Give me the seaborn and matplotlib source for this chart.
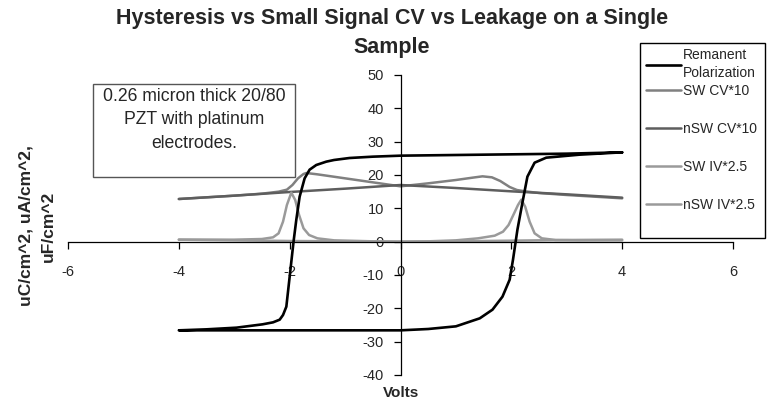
import numpy as np
import pandas as pd
import matplotlib.pyplot as plt
from matplotlib.patches import Rectangle
import seaborn as sns

# --- data ---
# remanent polarization loop: down-sweep (+4 -> -4) then up-sweep (-4 -> +4)
pr_volts = [4.0, 3.0, 2.0, 1.0, 0.0, -0.5, -0.92, -1.2, -1.34, -1.52, -1.64, -1.73,
            -1.82, -1.88, -1.93, -1.97, -2.02, -2.06, -2.12, -2.18, -2.3, -2.49, -2.96,
            -3.5, -4.0,
            -3.0, -2.0, -1.0, 0.0, 0.5, 1.0, 1.43, 1.66, 1.84, 1.97, 2.03, 2.11, 2.2,
            2.29, 2.42, 2.63, 3.23, 4.0]
pr_values = [26.8, 26.4, 26.2, 26.0, 25.8, 25.5, 25.1, 24.5, 24.0, 23.0, 21.6, 19.0,
             13.5, 6.6, 0.0, -6.0, -13.5, -19.5, -22.0, -23.4, -24.2, -24.8, -25.8,
             -26.3, -26.6,
             -26.6, -26.6, -26.6, -26.6, -26.2, -25.4, -23.0, -20.4, -16.5, -11.4, -5.4,
             3.6, 11.7, 19.5, 23.7, 25.2, 26.1, 26.8]

# small signal CV (x10)
sw_cv_volts = [-4, -3, -2.5, -2.2, -2.05, -1.95, -1.85, -1.75, -1.7, -1.5, -1.0, -0.5,
               0, 0.5, 1.0, 1.3, 1.48, 1.65, 1.8, 1.97, 2.1, 2.25, 2.5, 3, 3.5, 4]
sw_cv_values = [12.8, 13.8, 14.4, 15.0, 15.6, 17.0, 19.0, 20.3, 20.6, 20.2, 19.0, 17.8,
                16.6, 17.5, 18.5, 19.2, 19.6, 19.3, 18.2, 16.4, 15.5, 15.1, 14.6, 14.0,
                13.5, 13.0]
nsw_cv_volts = [-4, -3, -2, -1, 0, 1, 2, 3, 4]
nsw_cv_values = [12.8, 13.8, 14.9, 15.9, 17.0, 16.1, 15.1, 14.2, 13.2]

# leakage IV (x2.5)
sw_iv_volts = [-4, -3, -2, -1, 0, 0.5, 1.0, 1.4, 1.7, 1.85, 1.95, 2.05, 2.12, 2.18,
               2.25, 2.33, 2.42, 2.55, 2.8, 3.2, 4]
sw_iv_values = [0.6, 0.4, 0.2, 0.1, 0.0, 0.1, 0.4, 1.0, 1.8, 3.0, 5.0, 8.5, 11.0, 12.6,
                10.5, 6.0, 2.5, 1.0, 0.5, 0.4, 0.4]
nsw_iv_volts = [-4, -3, -2.5, -2.3, -2.2, -2.12, -2.05, -1.97, -1.9, -1.83, -1.75,
                -1.65, -1.5, -1.2, -0.5, 0, 1, 2, 3, 4]
nsw_iv_values = [0.6, 0.6, 0.8, 1.3, 2.5, 6.0, 11.0, 14.7, 12.5, 8.0, 4.0, 2.0, 1.0,
                 0.4, 0.1, 0.0, 0.1, 0.3, 0.5, 0.6]

x_ticks = [-6, -4, -2, 0, 2, 4, 6]
y_ticks = [-40, -30, -20, -10, 0, 10, 20, 30, 40, 50]

# --- plot ---
sns.set_style('white')
plt.rcParams['font.family'] = ['Liberation Sans', 'DejaVu Sans']
plt.rcParams['axes.unicode_minus'] = False

W, H = 767, 407
fig = plt.figure(figsize=(W / 100, H / 100), dpi=100)
ax = fig.add_axes([68 / W, 32 / H, 665 / W, 300 / H])

sns.lineplot(x=pr_volts, y=pr_values, sort=False, estimator=None, color='black',
             lw=1.9, ax=ax, label='Remanent\nPolarization', zorder=4)
sns.lineplot(x=sw_cv_volts, y=sw_cv_values, sort=False, estimator=None, color='#808080',
             lw=1.8, ax=ax, label='SW CV*10')
sns.lineplot(x=nsw_cv_volts, y=nsw_cv_values, sort=False, estimator=None, color='#5e5e5e',
             lw=1.8, ax=ax, label='nSW CV*10')
sns.lineplot(x=sw_iv_volts, y=sw_iv_values, sort=False, estimator=None, color='#9a9a9a',
             lw=1.8, ax=ax, label='SW IV*2.5')
sns.lineplot(x=nsw_iv_volts, y=nsw_iv_values, sort=False, estimator=None, color='#9a9a9a',
             lw=1.8, ax=ax, label='nSW IV*2.5')

ax.set_xlim(-6, 6)
ax.set_ylim(-40, 50)
ax.set_xticks(x_ticks)
ax.set_yticks(y_ticks)

# Excel style axes crossing at zero
ax.spines['left'].set_position(('data', 0))
ax.spines['bottom'].set_position(('data', 0))
ax.spines['top'].set_visible(False)
ax.spines['right'].set_visible(False)
for s in ['left', 'bottom']:
    ax.spines[s].set_color('black')
    ax.spines[s].set_linewidth(0.9)
ax.tick_params(bottom=True, left=True, direction='out', length=5, width=0.9,
               color='black', labelsize=10.5)
ax.tick_params(axis='x', pad=12)
ax.tick_params(axis='y', pad=7)
ax.set_xlabel('')
ax.set_ylabel('')
ax.patch.set_alpha(0)

# legend: Excel puts the two-line entry tight at the top, the rest evenly spaced
handles, labels = ax.get_legend_handles_labels()
leg_kw = dict(loc='upper left', bbox_transform=fig.transFigure, borderaxespad=0,
              fontsize=10, handlelength=2.5, handletextpad=0.15, borderpad=0,
              frameon=False)
leg1 = ax.legend(handles[:1], labels[:1], bbox_to_anchor=(646 / W, 1 - 48 / H), **leg_kw)
for t in leg1.get_texts():
    t.set_linespacing(1.35)
ax.add_artist(leg1)
ax.legend(handles[1:], labels[1:], bbox_to_anchor=(646 / W, 1 - 84 / H),
          labelspacing=1.72, **leg_kw)
fig.patches.append(Rectangle((640 / W, 1 - 238 / H), 125 / W, 195 / H,
                             transform=fig.transFigure, fill=False,
                             edgecolor='black', lw=1))

fig.text(392 / W, 1 - 33 / H, 'Hysteresis vs Small Signal CV vs Leakage on a Single\nSample',
         ha='center', va='center', fontsize=15.5, fontweight='bold', linespacing=1.45)
fig.text(401 / W, 1 - 393 / H, 'Volts', ha='center', va='center', fontsize=11,
         fontweight='bold')
fig.text(37 / W, 1 - 226 / H, 'uC/cm^2, uA/cm^2,\nuF/cm^2', ha='center', va='center',
         rotation=90, fontsize=12.5, fontweight='bold', linespacing=1.6)

# note box
fig.patches.append(Rectangle((93 / W, 1 - 177 / H), 202 / W, 93 / H,
                             transform=fig.transFigure, fill=False,
                             edgecolor='#555555', lw=1))
fig.text(194 / W, 1 - 120 / H, '0.26 micron thick 20/80\nPZT with platinum\nelectrodes.',
         ha='center', va='center', fontsize=12.7, linespacing=1.5)

fig.savefig('out.png', dpi=100)
